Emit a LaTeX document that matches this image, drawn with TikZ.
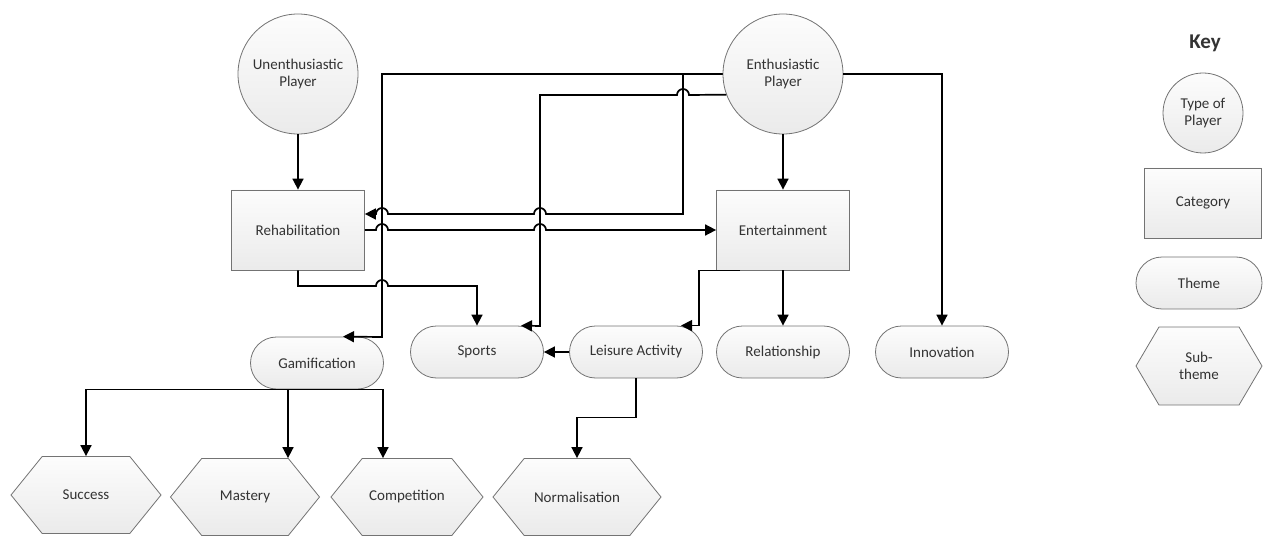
\documentclass[tikz,border=0pt]{standalone}
\usepackage{fontspec}
\setmainfont{Carlito}
\usetikzlibrary{arrows.meta,shapes.symbols}

\begin{document}
\begin{tikzpicture}[x=1pt,y=-1pt,
  every node/.style={font=\fontsize{15}{17.5}\selectfont, text=black!80, align=center, inner sep=0pt},
  boxfill/.style={draw=black!55, line width=0.8pt, top color=black!1, bottom color=black!8},
  player/.style={boxfill, circle, minimum size=120pt},
  category/.style={boxfill, rectangle, minimum width=133pt, minimum height=80pt},
  theme/.style={boxfill, rectangle, rounded corners=26pt, minimum width=133pt, minimum height=52pt},
  subtheme/.style={boxfill, signal, signal to=east and west, signal pointer angle=102, minimum width=150pt, minimum height=77pt},
  link/.style={line width=1.7pt, -{Triangle[length=11pt,width=11pt]}}]
\useasboundingbox (0,0) rectangle (1263,537);

% players and categories
\node[player] (unen) at (298,74) {Unenthusiastic\\Player};
\node[player] (enth) at (783,74) {Enthusiastic\\Player};
\node[category] (rehab) at (298,230) {Rehabilitation};
\node[category] (ent) at (783,230) {Entertainment};

% themes
\node[theme] (gam) at (317,363) {Gamification};
\node[theme] (sport) at (477,352) {Sports};
\node[theme] (leis) at (636,352) {Leisure Activity};
\node[theme] (rel) at (783,352) {Relationship};
\node[theme] (inno) at (942,352) {Innovation};

% sub-themes
\node[subtheme] (succ) at (86,495) {Success};
\node[subtheme, minimum width=149pt] (mast) at (245,497) {Mastery};
\node[subtheme, minimum width=152pt] (comp) at (407,497) {Competition};
\node[subtheme, minimum width=168pt] (norm) at (577,497) {Normalisation};

% key
\node[font=\fontsize{21}{24}\selectfont\bfseries] (key) at (1205,43) {Key};
\node[player, minimum size=80pt] (kplayer) at (1203,113) {Type of\\Player};
\node[category, minimum width=117pt, minimum height=70pt] (kcat) at (1203,203) {Category};
\node[theme, minimum width=126pt] (ktheme) at (1199,283) {Theme};
\node[subtheme, minimum width=126pt, minimum height=78pt, signal pointer angle=119] (ksub) at (1199,366) {Sub-\\theme};

% connectors
\draw[link] (unen) -- (rehab);
\draw[link] (enth) -- (ent);
\draw[link] (ent) -- (rel);
\draw[link] (enth.east) -| (inno);
\draw[link] (leis) -- (sport);
\draw[link] (enth.west) -| (382,337) -- ([xshift=26pt]gam.north);
\draw[link] (enth.west) -| (683,214) -- (546,214) arc[start angle=0,end angle=180,radius=6pt]
  -- (388,214) arc[start angle=0,end angle=180,radius=6pt] -- (rehab.east |- 0,214);
\draw[link] (enth.200) -- (689,95) arc[start angle=0,end angle=180,radius=6pt]
  -- (540,95) -- (540,326) -- ([xshift=44pt]sport.north);
\draw[link] (rehab.east) -- (376,230) arc[start angle=180,end angle=0,radius=6pt]
  -- (534,230) arc[start angle=180,end angle=0,radius=6pt] -- (ent.west);
\draw[link] (rehab.south) |- (376,286) arc[start angle=180,end angle=0,radius=6pt] -| (sport.north);
\draw[link] ([xshift=-43pt]ent.south) -| ([xshift=63pt]leis.north) -- ([xshift=45pt]leis.north);
\draw[link] (leis.south) -- ++(0,39) -| (norm.north);
\draw[link] (gam.south) -| (succ.north);
\draw[link] (gam.south) -| ([xshift=43pt]mast.north);
\draw[link] (gam.south) -| ([xshift=-24pt]comp.north);
\end{tikzpicture}
\end{document}
